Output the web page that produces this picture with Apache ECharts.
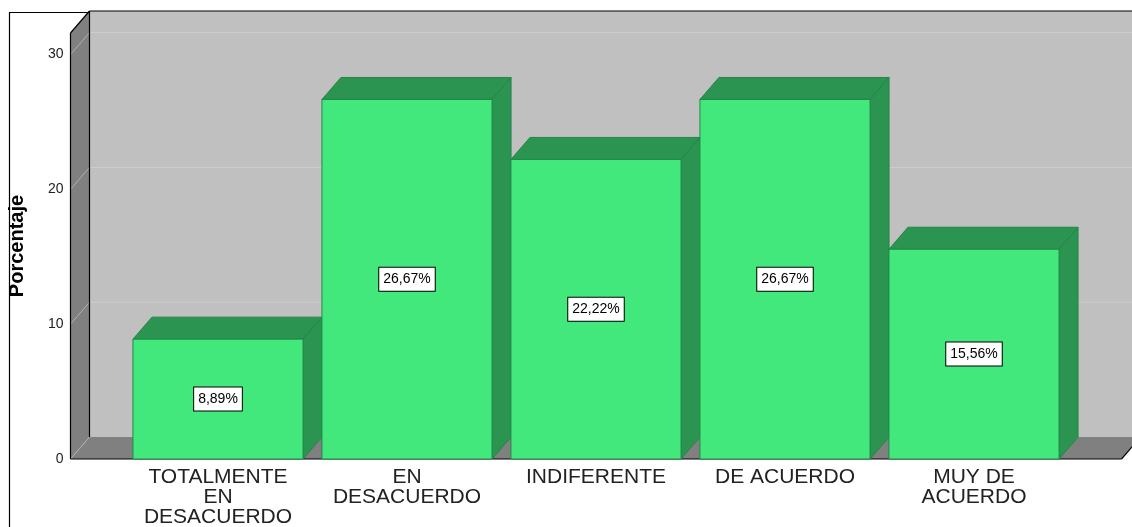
<!DOCTYPE html>
<html>
<head>
<meta charset="utf-8">
<title>Porcentaje</title>
<script src="https://cdn.jsdelivr.net/npm/echarts@6/dist/echarts.min.js"></script>
<style>
  html, body { margin: 0; padding: 0; background: #fff; }
  #chart { width: 1132px; height: 527px; }
</style>
</head>
<body>
<div id="chart"></div>
<script>
// datos del gráfico
const categories = ['TOTALMENTE\nEN\nDESACUERDO', 'EN\nDESACUERDO', 'INDIFERENTE', 'DE ACUERDO', 'MUY DE\nACUERDO']
const percentages = [8.89, 26.67, 22.22, 26.67, 15.56]
const percentLabels = ['8,89%', '26,67%', '22,22%', '26,67%', '15,56%']
const yTicks = [0, 10, 20, 30]

// profundidad del efecto 3D
const DX = 19
const DY = 22
const SIDE_PAD = 53

const FRONT = '#42e87c'
const DARK = '#2a9450'

/**
 * paredes, suelo y líneas de cuadrícula
 */
function renderFrame(params, api) {
  const cs = params.coordSys
  const x0 = cs.x - SIDE_PAD
  const x1 = cs.x + cs.width + SIDE_PAD
  const yt = cs.y
  const yb = cs.y + cs.height
  const black = { stroke: '#000', lineWidth: 1.2 }
  const children = [
    { type: 'rect', shape: { x: x0 + DX, y: yt - DY, width: x1 - x0, height: yb - yt }, style: { fill: '#c0c0c0' } },
    { type: 'polygon', shape: { points: [[x0, yt], [x0 + DX, yt - DY], [x0 + DX, yb - DY], [x0, yb]] }, style: { fill: '#808080' } },
    { type: 'polygon', shape: { points: [[x0, yb], [x0 + DX, yb - DY], [x1 + DX, yb - DY], [x1, yb]] }, style: { fill: '#808080' } }
  ]
  yTicks.forEach(v => {
    const y = api.coord([0, v])[1]
    children.push({ type: 'line', shape: { x1: x0, y1: y, x2: x0 + DX, y2: y - DY }, style: { stroke: '#b0b0b0', lineWidth: 1 } })
    if (v > 0) {
      children.push({ type: 'line', shape: { x1: x0 + DX, y1: y - DY, x2: x1 + DX, y2: y - DY }, style: { stroke: '#cdcdcd', lineWidth: 1 } })
    }
  })
  children.push(
    { type: 'line', shape: { x1: x0, y1: yt, x2: x0, y2: yb }, style: black },
    { type: 'line', shape: { x1: x0, y1: yt, x2: x0 + DX, y2: yt - DY }, style: black },
    { type: 'line', shape: { x1: x0 + DX, y1: yt - DY, x2: x0 + DX, y2: yb - DY }, style: black },
    { type: 'line', shape: { x1: x0 + DX, y1: yt - DY, x2: x1 + DX, y2: yt - DY }, style: black },
    { type: 'line', shape: { x1: x0, y1: yb, x2: x1, y2: yb }, style: black },
    { type: 'line', shape: { x1: x1, y1: yb, x2: x1 + DX, y2: yb - DY }, style: black }
  )
  return { type: 'group', children }
}

/**
 * barras 3D con etiqueta
 */
function renderBar(params, api) {
  const idx = api.value(0)
  const base = api.coord([idx, 0])
  const top = api.coord([idx, api.value(1)])
  const half = api.size([1, 0])[0] * 0.9 / 2
  const cx = base[0]
  const ty = top[1]
  const by = base[1]
  const edge = { stroke: '#24864a', lineWidth: 1 }
  return {
    type: 'group',
    children: [
      {
        type: 'polygon',
        shape: { points: [[cx - half, ty], [cx + half, ty], [cx + half + DX, ty - DY], [cx - half + DX, ty - DY]] },
        style: Object.assign({ fill: DARK }, edge)
      },
      {
        type: 'polygon',
        shape: { points: [[cx + half, ty], [cx + half + DX, ty - DY], [cx + half + DX, by - DY], [cx + half, by]] },
        style: Object.assign({ fill: DARK }, edge)
      },
      {
        type: 'rect',
        shape: { x: cx - half, y: ty, width: half * 2, height: by - ty },
        style: Object.assign({ fill: FRONT }, edge)
      },
      {
        type: 'text',
        style: {
          text: percentLabels[params.dataIndex],
          x: cx,
          y: (ty + by) / 2,
          align: 'center',
          verticalAlign: 'middle',
          fill: '#000',
          font: '14px "Liberation Sans", Arial, sans-serif',
          lineHeight: 15,
          backgroundColor: '#fff',
          borderColor: '#000',
          borderWidth: 1,
          padding: [4, 4, 4, 4]
        }
      }
    ]
  }
}

const chart = echarts.init(document.getElementById('chart'), null, { renderer: 'canvas' })

chart.setOption({
  animation: false,
  backgroundColor: '#fff',
  textStyle: { fontFamily: '"Liberation Sans", Arial, sans-serif' },
  graphic: [
    {
      type: 'rect',
      left: 7,
      top: 10,
      shape: { width: 1300, height: 700 },
      style: { fill: 'none', stroke: '#000', lineWidth: 1.2 },
      z: 0
    }
  ],
  grid: { left: 123.5, right: 63.5, top: 33, bottom: 68, containLabel: false, outerBoundsMode: 'none' },
  xAxis: {
    type: 'category',
    data: categories,
    axisLine: { show: false },
    axisTick: { show: false },
    splitLine: { show: false },
    axisLabel: {
      interval: 0,
      margin: 8,
      fontSize: 21,
      lineHeight: 20,
      color: '#222'
    }
  },
  yAxis: {
    type: 'value',
    min: 0,
    max: 31.6,
    interval: 10,
    name: 'Porcentaje',
    nameLocation: 'middle',
    nameRotate: 90,
    nameGap: 96,
    nameTextStyle: { fontSize: 20, fontWeight: 'bold', color: '#000' },
    axisLine: { show: false },
    axisTick: { show: false },
    splitLine: { show: false },
    axisLabel: {
      margin: 60,
      fontSize: 14,
      color: '#222',
      showMaxLabel: false
    }
  },
  series: [
    {
      type: 'custom',
      silent: true,
      clip: false,
      z: 1,
      data: [[0, 0]],
      renderItem: renderFrame
    },
    {
      type: 'custom',
      clip: false,
      z: 2,
      data: percentages.map((v, i) => [i, v]),
      renderItem: renderBar
    }
  ]
})
</script>
</body>
</html>
